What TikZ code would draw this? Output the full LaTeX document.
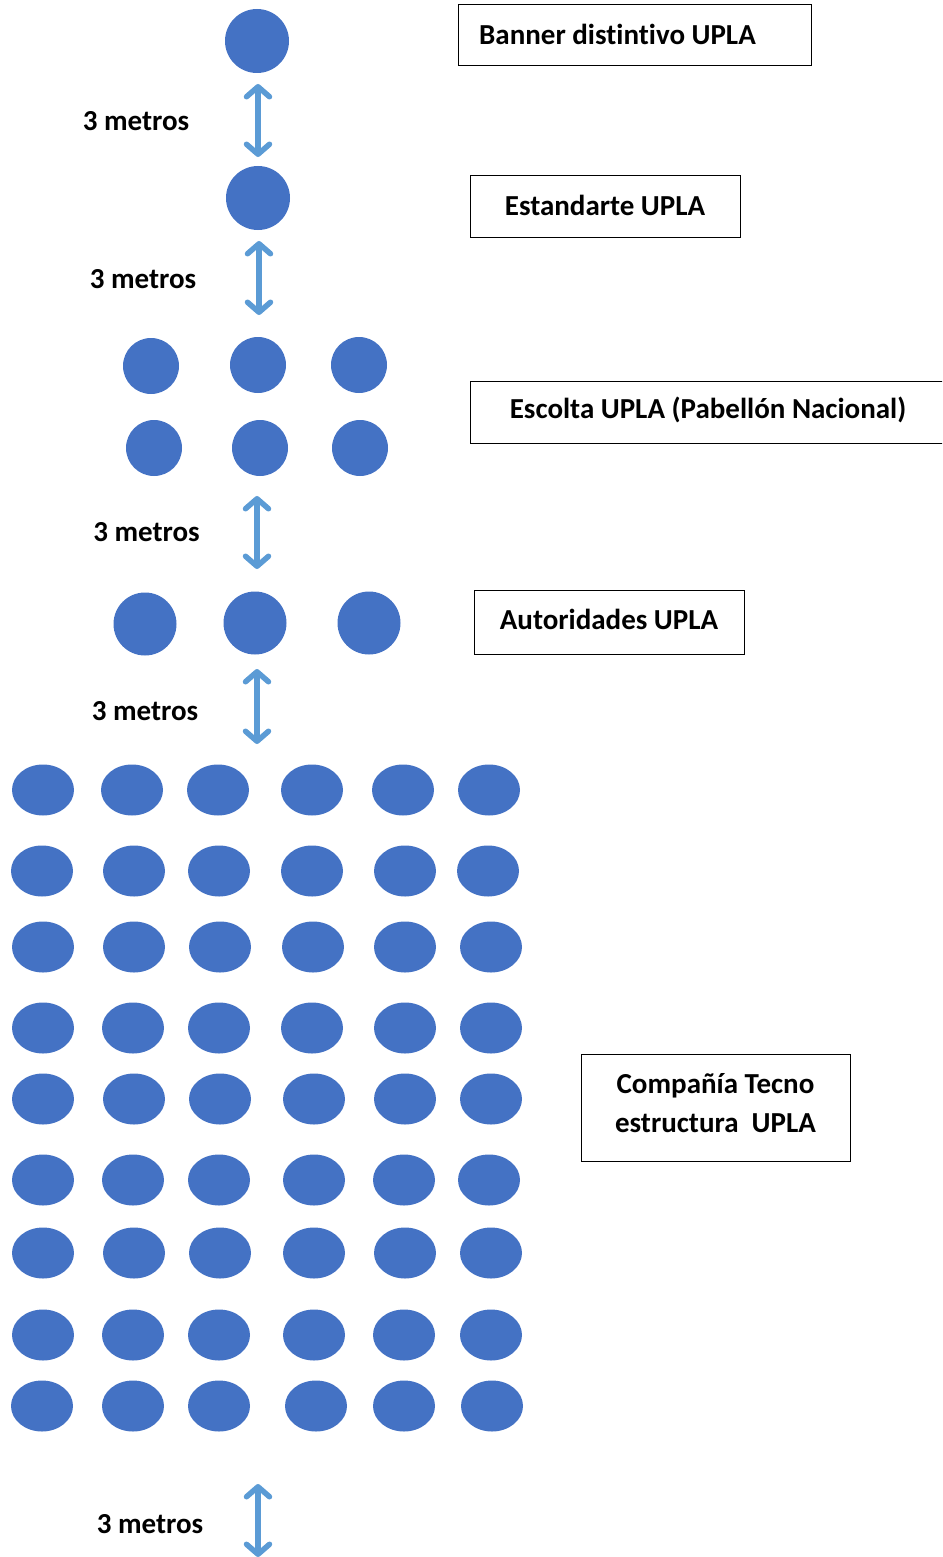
\documentclass[tikz,border=0pt]{standalone}
\usepackage{fontspec}
\setmainfont{Carlito}[Ligatures=NoCommon]
\usetikzlibrary{arrows.meta,shapes.geometric}
\definecolor{dotblue}{HTML}{4472C4}
\definecolor{arrowblue}{HTML}{5B9BD5}
\tikzset{
  dot/.style={circle,fill=dotblue,draw=none,inner sep=0pt,minimum size=#1},
  edot/.style={ellipse,fill=dotblue,draw=none,inner sep=0pt,minimum width=62pt,minimum height=51pt},
  dist/.style={line width=5.5pt,arrowblue,line cap=round,
    {Straight Barb[length=10pt,width=23pt,round]}-{Straight Barb[length=10pt,width=23pt,round]}},
  lbl/.style={font=\fontsize{29}{35}\selectfont\bfseries,inner sep=0pt},
  framebox/.style={draw=black,line width=1pt,inner sep=0pt},
  boxtext/.style={inner sep=0pt,font=\fontsize{29}{39}\selectfont\bfseries}
}
\begin{document}
\begin{tikzpicture}[x=1pt,y=-1pt]
\useasboundingbox (0,0) rectangle (942,1557);
\clip (0,0) rectangle (942,1557);
% top single circles
\node[dot=64pt] (banner) at (257,41) {};
\node[dot=64pt] (estandarte) at (258,198) {};
% escolta
\node[dot=56pt] (es11) at (151,366) {};
\node[dot=56pt] (es12) at (258,365) {};
\node[dot=56pt] (es13) at (359,365) {};
\node[dot=56pt] (es21) at (154,448) {};
\node[dot=56pt] (es22) at (260,448) {};
\node[dot=56pt] (es23) at (360,448) {};
% autoridades
\node[dot=63pt] (au1) at (145,624) {};
\node[dot=63pt] (au2) at (255,623) {};
\node[dot=63pt] (au3) at (369,623) {};
% company grid
\foreach \x [count=\c] in {43,132,218,312,403,489} \node[edot] (g1-\c) at (\x,790) {};
\foreach \x [count=\c] in {42,134,219,312,405,488} \node[edot] (g2-\c) at (\x,871) {};
\foreach \x [count=\c] in {43,134,220,313,405,491} \node[edot] (g3-\c) at (\x,947) {};
\foreach \x [count=\c] in {43,133,219,312,405,491} \node[edot] (g4-\c) at (\x,1028) {};
\foreach \x [count=\c] in {43,134,220,314,405,491} \node[edot] (g5-\c) at (\x,1099) {};
\foreach \x [count=\c] in {43,133,219,314,404,489} \node[edot] (g6-\c) at (\x,1180) {};
\foreach \x [count=\c] in {43,134,220,314,405,491} \node[edot] (g7-\c) at (\x,1253) {};
\foreach \x [count=\c] in {43,133,219,314,404,491} \node[edot] (g8-\c) at (\x,1335) {};
\foreach \x [count=\c] in {42,133,219,316,404,492} \node[edot] (g9-\c) at (\x,1406) {};
% arrow end points
\coordinate (a1t) at (258,84);
\coordinate (a1b) at (258,157);
\coordinate (a2t) at (259,241);
\coordinate (a2b) at (259,315);
\coordinate (a3t) at (257,496);
\coordinate (a3b) at (257,569);
\coordinate (a4t) at (257,669);
\coordinate (a4b) at (257,744);
\coordinate (a5t) at (258,1484);
\coordinate (a5b) at (258,1557);
\draw[dist] (a1t) -- (a1b);
\draw[dist] (a2t) -- (a2b);
\draw[dist] (a3t) -- (a3b);
\draw[dist] (a4t) -- (a4b);
\draw[dist] (a5t) -- (a5b);
% distance labels
\node[lbl] (m1) at (136,121) {3 metros};
\node[lbl] (m2) at (143,279) {3 metros};
\node[lbl] (m3) at (146.5,532) {3 metros};
\node[lbl] (m4) at (145,711) {3 metros};
\node[lbl] (m5) at (150,1524) {3 metros};
% boxes
\node[framebox,minimum width=353pt,minimum height=61pt] (bBanner) at (634.5,35.5) {};
\node[boxtext,anchor=west] (tBanner) at (479,34) {Banner distintivo UPLA};
\node[framebox,minimum width=270pt,minimum height=61pt] (bEstandarte) at (605,206.5) {};
\node[boxtext] (tEstandarte) at (605,205) {Estandarte UPLA};
\node[framebox,minimum width=476pt,minimum height=62pt] (bEscolta) at (708,412) {};
\node[boxtext] (tEscolta) at (708,410) {Escolta UPLA (Pabellón Nacional)};
\node[framebox,minimum width=270pt,minimum height=64pt] (bAutoridades) at (609,622) {};
\node[boxtext] (tAutoridades) at (609,619) {Autoridades UPLA};
\node[framebox,minimum width=269pt,minimum height=107pt] (bCompania) at (715.5,1107.5) {};
\node[boxtext,align=center] (tCompania) at (715.5,1103) {Compañía Tecno\\estructura\ \ UPLA};
\end{tikzpicture}
\end{document}
